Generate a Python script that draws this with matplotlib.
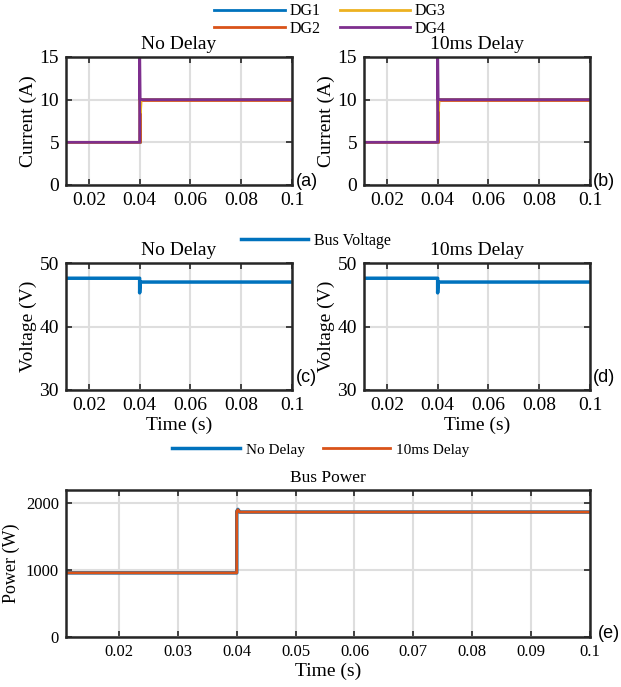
import numpy as np
import matplotlib
matplotlib.use('Agg')
import matplotlib.pyplot as plt

# DG output currents (a) no delay, (b) 10ms delay
t_cur = [0.011, 0.04, 0.04, 0.0402, 0.0405, 0.1]
t_dg3 = [0.011, 0.04, 0.0401, 0.0403, 0.0406, 0.1]
dg1_nd = [5, 5, 10.1, 10.1, 10.1, 10.1]
dg2_nd = [5, 5, 10.0, 10.0, 10.0, 10.0]
dg3_nd = [5, 5, 10.0, 8.5, 10.0, 10.0]
dg4_nd = [5, 5, 16, 10.0, 10.0, 10.0]
dg1_d = [5, 5, 10.1, 10.1, 10.1, 10.1]
dg2_d = [5, 5, 10.0, 10.0, 10.0, 10.0]
dg3_d = [5, 5, 10.0, 8.7, 10.0, 10.0]
dg4_d = [5, 5, 16, 10.0, 10.0, 10.0]

# Bus voltage (c) no delay, (d) 10ms delay
t_volt = [0.011, 0.04, 0.04, 0.0402, 0.1]
v_nd = [47.6, 47.6, 45.3, 47.0, 47.0]
v_d = [47.6, 47.6, 45.3, 47.0, 47.0]

# Bus power (e)
t_pow = [0.011, 0.04, 0.04, 0.0402, 0.0405, 0.1]
p_nd = [960, 960, 1880, 1910, 1870, 1870]
p_d = [960, 960, 1880, 1905, 1870, 1870]

c_blue = '#0072BD'
c_orange = '#D95319'
c_yellow = '#EDB120'
c_purple = '#7E2F8E'

plt.rcParams['font.family'] = ['Liberation Serif', 'DejaVu Serif']

W, H = 621, 687
fig = plt.figure(figsize=(W / 100, H / 100), dpi=100)


def box(l, t, r, b):
    return [l / W, 1 - b / H, (r - l) / W, (b - t) / H]


def style(ax, fs=14):
    ax.grid(True, color='#dedede', lw=1.5)
    ax.set_axisbelow(True)
    ax.tick_params(direction='in', top=True, right=True, labelsize=fs,
                   length=4, width=1.2, color='#262626', pad=5)
    for s in ax.spines.values():
        s.set_linewidth(1.8)
        s.set_color('#262626')


ax_a = fig.add_axes(box(66, 57, 292, 185))
ax_b = fig.add_axes(box(364, 57, 590, 185))
ax_c = fig.add_axes(box(66, 263, 292, 390))
ax_d = fig.add_axes(box(364, 263, 590, 390))
ax_e = fig.add_axes(box(66, 490, 590, 637))

lines = []
for ax, d1, d2, d3, d4, ttl in [(ax_a, dg1_nd, dg2_nd, dg3_nd, dg4_nd, 'No Delay'),
                                (ax_b, dg1_d, dg2_d, dg3_d, dg4_d, '10ms Delay')]:
    l1, = ax.plot(t_cur, d1, color=c_blue, lw=2, label='DG1')
    l2, = ax.plot(t_cur, d2, color=c_orange, lw=2, label='DG2')
    l3, = ax.plot(t_dg3, d3, color=c_yellow, lw=2, label='DG3')
    l4, = ax.plot(t_cur, d4, color=c_purple, lw=2, label='DG4')
    lines = [l1, l2, l3, l4]
    ax.set_xlim(0.011, 0.1)
    ax.set_ylim(0, 15)
    ax.set_yticks([0, 5, 10, 15])
    ax.set_xticks([0.02, 0.04, 0.06, 0.08, 0.1])
    ax.set_xticklabels(['0.02', '0.04', '0.06', '0.08', '0.1'])
    ax.set_ylabel('Current (A)', fontsize=14, labelpad=2)
    ax.set_title(ttl, fontsize=14, pad=6)
    style(ax)

fig.legend(lines, ['DG1', 'DG2', 'DG3', 'DG4'], ncol=2, frameon=False,
           loc='center', bbox_to_anchor=(330 / W, 1 - 20 / H), fontsize=11.5,
           handlelength=4.4, labelspacing=0.1, columnspacing=1.2,
           borderpad=0, handletextpad=0.3)

for ax, v, ttl in [(ax_c, v_nd, 'No Delay'), (ax_d, v_d, '10ms Delay')]:
    lv, = ax.plot(t_volt, v, color=c_blue, lw=2.5, label='Bus Voltage')
    ax.set_xlim(0.011, 0.1)
    ax.set_ylim(30, 50)
    ax.set_yticks([30, 40, 50])
    ax.set_xticks([0.02, 0.04, 0.06, 0.08, 0.1])
    ax.set_xticklabels(['0.02', '0.04', '0.06', '0.08', '0.1'])
    ax.set_ylabel('Voltage (V)', fontsize=14, labelpad=2)
    ax.set_xlabel('Time (s)', fontsize=14, labelpad=2)
    ax.set_title(ttl, fontsize=14, pad=6)
    style(ax)

fig.legend([lv], ['Bus Voltage'], frameon=False, loc='center',
           bbox_to_anchor=(316 / W, 1 - 241 / H), fontsize=11.5,
           handlelength=4.2, borderpad=0, handletextpad=0.4)

le1, = ax_e.plot(t_pow, p_nd, color=c_blue, lw=2.5, label='No Delay')
le2, = ax_e.plot(t_pow, p_d, color=c_orange, lw=2, label='10ms Delay')
ax_e.set_xlim(0.011, 0.1)
ax_e.set_ylim(0, 2200)
ax_e.set_yticks([0, 1000, 2000])
ax_e.set_xticks([0.02, 0.03, 0.04, 0.05, 0.06, 0.07, 0.08, 0.09, 0.1])
ax_e.set_xticklabels(['0.02', '0.03', '0.04', '0.05', '0.06', '0.07', '0.08', '0.09', '0.1'])
ax_e.set_ylabel('Power (W)', fontsize=13, labelpad=4)
ax_e.set_xlabel('Time (s)', fontsize=14, labelpad=2)
ax_e.set_title('Bus Power', fontsize=12.5, pad=6)
style(ax_e, fs=12)

fig.legend([le1, le2], ['No Delay', '10ms Delay'], ncol=2, frameon=False,
           loc='center', bbox_to_anchor=(321 / W, 1 - 450 / H), fontsize=11,
           handlelength=4.4, borderpad=0, handletextpad=0.4, columnspacing=1.2)

for lab, x, y in [('(a)', 307, 182), ('(b)', 604, 182), ('(c)', 306, 377),
                  ('(d)', 604, 377), ('(e)', 609, 633)]:
    fig.text(x / W, 1 - y / H, lab, fontsize=13, family='Liberation Sans',
             ha='center', va='center')

fig.savefig('out.png', dpi=100)
